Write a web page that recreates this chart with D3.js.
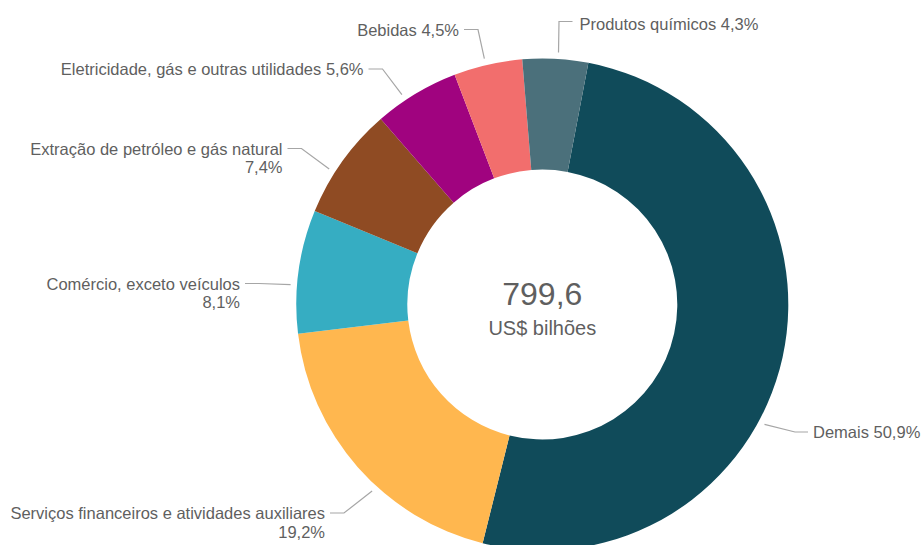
<!DOCTYPE html>
<html>
<head>
<meta charset="utf-8">
<script src="https://cdn.jsdelivr.net/npm/d3@7"></script>
<style>
  html, body { margin: 0; padding: 0; background: #fff; }
  svg { display: block; font-family: "Liberation Sans", Arial, sans-serif; }
</style>
</head>
<body>
<svg id="chart" width="923" height="545"></svg>
<script>
// Sector shares of the total (percent), drawn clockwise
const categories = [
  "Demais",
  "Serviços financeiros e atividades auxiliares",
  "Comércio, exceto veículos",
  "Extração de petróleo e gás natural",
  "Eletricidade, gás e outras utilidades",
  "Bebidas",
  "Produtos químicos"
];
const shares = [50.9, 19.2, 8.1, 7.4, 5.6, 4.5, 4.3];
const shareLabels = ["50,9%", "19,2%", "8,1%", "7,4%", "5,6%", "4,5%", "4,3%"];
const colors = ["#104b5a", "#ffb74f", "#36adc2", "#8f4b23", "#a0037f", "#f26e6d", "#4b707b"];
const totalValue = "799,6";
const totalUnit = "US$ bilhões";

// Label placement: side, leader elbow/text row, two-line wrap, and where
// along the slice the leader line leaves the ring (0 = start, 1 = end)
const labelLayout = [
  { side: "right", textX: 813, lineY: 432, wrap: false, along: 0.587 },
  { side: "left",  textX: 325, lineY: 513, wrap: true,  along: 0.41 },
  { side: "left",  textX: 240, lineY: 283.5, wrap: true, along: 0.39 },
  { side: "left",  textX: 282.5, lineY: 148.5, wrap: true, along: 0.38 },
  { side: "left",  textX: 363.5, lineY: 69, wrap: false, along: 0.36 },
  { side: "left",  textX: 459, lineY: 29.5, wrap: false, along: 0.47 },
  { side: "top",   textX: 579.5, lineY: 21.5, wrap: false, along: 0.54 }
];

const cx = 542.3, cy = 304.5;
const outerR = 246, innerR = 135;
const startAngle = 10.8 * Math.PI / 180;
const textColor = "#5f5f5f";
const leaderColor = "#a6a6a6";
const labelSize = 16.5;

const svg = d3.select("#chart");
const g = svg.append("g").attr("transform", `translate(${cx},${cy})`);

const data = categories.map((c, i) => ({ name: c, value: shares[i], label: shareLabels[i], color: colors[i], layout: labelLayout[i] }));

const pie = d3.pie()
  .sort(null)
  .value(d => d.value)
  .startAngle(startAngle)
  .endAngle(startAngle + 2 * Math.PI);

const arc = d3.arc().innerRadius(innerR).outerRadius(outerR);
const arcs = pie(data);

g.selectAll("path.slice")
  .data(arcs)
  .join("path")
  .attr("class", "slice")
  .attr("d", arc)
  .attr("fill", d => d.data.color);

// Leader lines and labels
const leaderR = outerR + 6.5;
const labels = svg.append("g");

arcs.forEach(a => {
  const L = a.data.layout;
  const ang = a.startAngle + (a.endAngle - a.startAngle) * L.along;
  const sx = cx + leaderR * Math.sin(ang);
  const sy = cy - leaderR * Math.cos(ang);
  let pts, tx, anchor;
  if (L.side === "top") {
    pts = [[sx, sy], [sx + 0.5, L.lineY], [L.textX - 7, L.lineY]];
    tx = L.textX; anchor = "start";
  } else if (L.side === "right") {
    const elbowX = L.textX - 18;
    pts = [[sx, sy], [elbowX, L.lineY], [L.textX - 5, L.lineY]];
    tx = L.textX; anchor = "start";
  } else {
    const elbowX = L.textX + 19;
    pts = [[sx, sy], [elbowX, L.lineY], [L.textX + 5, L.lineY]];
    tx = L.textX; anchor = "end";
  }
  labels.append("path")
    .attr("d", d3.line()(pts))
    .attr("fill", "none")
    .attr("stroke", leaderColor)
    .attr("stroke-width", 1.2);

  const baseY = L.side === "top" ? L.lineY + 8 : L.lineY + 6;
  const t = labels.append("text")
    .attr("x", tx)
    .attr("y", baseY)
    .attr("text-anchor", anchor)
    .attr("font-size", labelSize)
    .attr("fill", textColor);
  if (L.wrap) {
    t.append("tspan").attr("x", tx).attr("y", baseY).text(a.data.name);
    t.append("tspan").attr("x", tx).attr("y", baseY + 18.5).text(a.data.label);
  } else {
    t.text(`${a.data.name} ${a.data.label}`);
  }
});

// Total in the centre of the ring
g.append("text")
  .attr("x", 0).attr("y", 0.5)
  .attr("text-anchor", "middle")
  .attr("font-size", 32)
  .attr("fill", textColor)
  .text(totalValue);
g.append("text")
  .attr("x", 0).attr("y", 30.5)
  .attr("text-anchor", "middle")
  .attr("font-size", 20)
  .attr("fill", textColor)
  .text(totalUnit);
</script>
</body>
</html>
